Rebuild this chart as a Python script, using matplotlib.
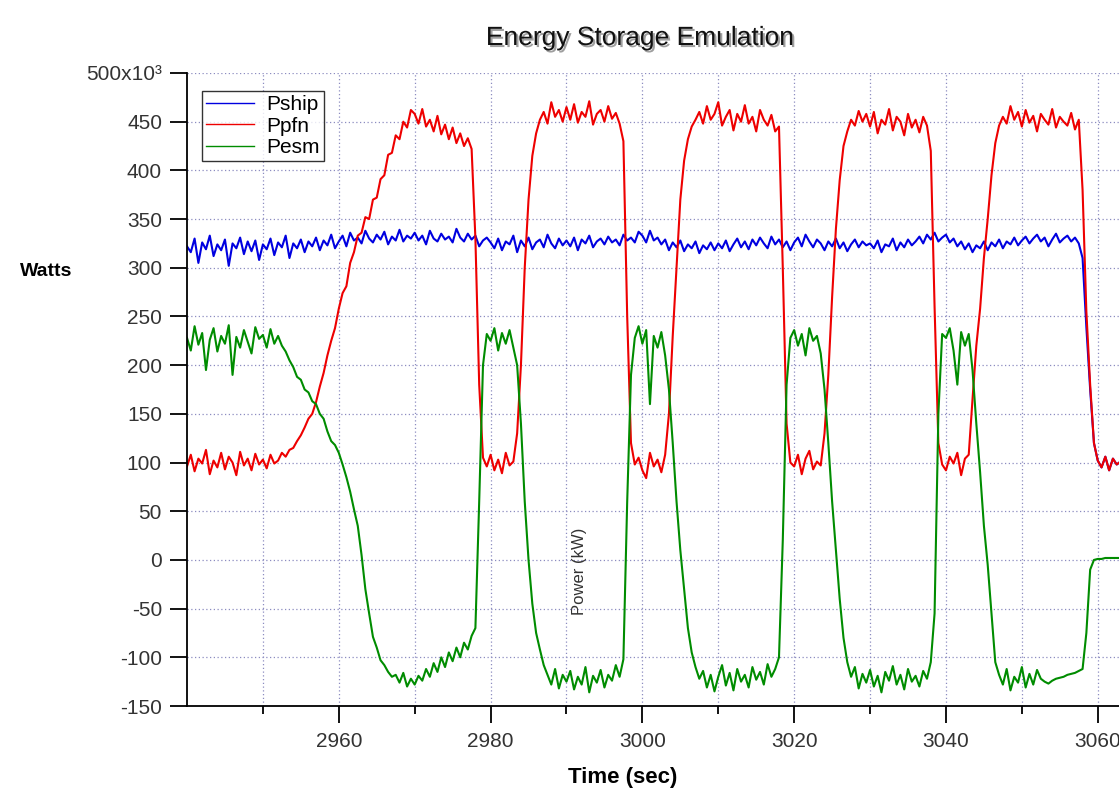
import numpy as np
import matplotlib.pyplot as plt
import matplotlib.patheffects as pe
from matplotlib.ticker import FixedLocator, FuncFormatter

plt.rcParams['font.family'] = ['Liberation Sans', 'DejaVu Sans']

# sample times (s), one reading every 0.5 s
t0, dt = 2940.0, 0.5

# power readings in kW, one row = 10 s
pship_kw = [
    322, 316, 330, 305, 326, 319, 333, 312, 324, 318, 329, 302, 325, 320, 331, 314, 327, 317, 328, 308,  # 2940
    324, 319, 330, 313, 326, 321, 333, 310, 325, 320, 329, 316, 327, 322, 331, 318, 328, 323, 334, 320,  # 2950
    327, 333, 322, 336, 328, 331, 325, 338, 330, 326, 334, 329, 337, 324, 332, 328, 339, 327, 333, 330,  # 2960
    336, 328, 333, 324, 338, 330, 327, 335, 329, 332, 326, 340, 331, 327, 335, 329, 333, 322, 328, 331,  # 2970
    326, 320, 330, 318, 327, 324, 333, 316, 328, 322, 331, 319, 326, 329, 321, 334, 325, 320, 330, 323,  # 2980
    328, 322, 331, 318, 329, 325, 333, 321, 327, 330, 324, 332, 326, 329, 323, 334, 328, 331, 326, 337,  # 2990
    333, 326, 338, 328, 331, 324, 329, 318, 326, 321, 328, 317, 324, 320, 327, 315, 323, 319, 326, 318,  # 3000
    325, 320, 328, 317, 324, 330, 321, 327, 319, 329, 323, 331, 325, 320, 332, 324, 329, 321, 327, 318,  # 3010
    326, 331, 322, 334, 327, 321, 329, 325, 318, 327, 322, 330, 320, 326, 317, 324, 329, 321, 327, 323,  # 3020
    325, 320, 328, 316, 324, 322, 330, 318, 326, 321, 329, 323, 327, 332, 325, 334, 329, 336, 327, 331,  # 3030
    334, 326, 330, 322, 327, 319, 325, 316, 323, 320, 327, 318, 326, 322, 329, 320, 327, 324, 331, 323,  # 3040
    328, 332, 325, 330, 334, 327, 331, 322, 329, 335, 326, 330, 333, 327, 331, 325, 310, 239, 175, 120,  # 3050
    102, 95, 106, 92, 104, 98, 101,  # 3060
]

ppfn_kw = [
    96, 108, 91, 104, 99, 113, 88, 102, 95, 110, 93, 106, 100, 87, 111, 97, 104, 92, 109, 98,  # 2940
    103, 94, 108, 99, 102, 110, 106, 113, 115, 122, 128, 136, 145, 150, 162, 178, 192, 210, 225, 238,  # 2950
    258, 274, 281, 305, 316, 333, 336, 352, 350, 370, 372, 391, 395, 416, 418, 436, 432, 450, 444, 462,  # 2960
    458, 448, 463, 445, 452, 440, 456, 437, 447, 432, 444, 428, 438, 425, 433, 422, 330, 180, 105, 96,  # 2970
    108, 92, 103, 89, 110, 97, 101, 130, 200, 300, 370, 415, 438, 452, 460, 448, 470, 455, 462, 450,  # 2980
    465, 452, 468, 449, 460, 455, 471, 447, 458, 462, 450, 466, 453, 459, 448, 430, 250, 120, 98, 105,  # 2990
    92, 84, 110, 96, 103, 90, 108, 150, 230, 300, 370, 410, 432, 445, 452, 460, 448, 466, 452, 458,  # 3000
    470, 446, 455, 462, 441, 458, 450, 467, 448, 455, 440, 462, 452, 446, 457, 440, 445, 300, 140, 100,  # 3010
    96, 108, 88, 104, 112, 93, 101, 97, 130, 190, 270, 340, 390, 425, 440, 452, 446, 461, 450, 458,  # 3020
    445, 460, 438, 452, 447, 463, 441, 455, 450, 436, 458, 444, 452, 439, 455, 446, 420, 260, 120, 98,  # 3030
    92, 106, 99, 110, 87, 104, 108, 165, 220, 258, 310, 350, 395, 428, 446, 455, 448, 466, 452, 460,  # 3040
    445, 462, 449, 456, 440, 458, 452, 447, 463, 444, 455, 450, 446, 459, 442, 452, 380, 255, 180, 120,  # 3050
    102, 95, 106, 92, 104, 98, 101,  # 3060
]

pesm_kw = [
    228, 215, 240, 221, 233, 195, 226, 238, 214, 230, 222, 241, 190, 229, 218, 236, 224, 212, 239, 227,  # 2940
    231, 218, 237, 222, 230, 220, 214, 205, 198, 188, 185, 175, 172, 163, 160, 150, 145, 132, 122, 118,  # 2950
    110, 98, 85, 70, 52, 35, 5, -30, -55, -79, -90, -103, -108, -115, -120, -118, -126, -116, -130, -122,  # 2960
    -128, -119, -124, -112, -120, -106, -115, -100, -110, -95, -104, -90, -100, -85, -92, -78, -70, 60, 200, 232,  # 2970
    225, 238, 215, 233, 222, 236, 218, 200, 140, 60, 0, -45, -75, -92, -108, -118, -128, -112, -132, -118,  # 2980
    -125, -114, -133, -120, -128, -110, -136, -119, -126, -113, -131, -118, -124, -108, -120, -102, 60, 190, 228, 240,  # 2990
    222, 236, 160, 230, 218, 234, 210, 175, 120, 60, 10, -30, -70, -95, -110, -122, -114, -131, -118, -135,  # 3000
    -120, -108, -129, -116, -134, -112, -125, -118, -131, -110, -123, -115, -128, -107, -120, -112, -100, 20, 180, 228,  # 3010
    236, 220, 232, 210, 238, 225, 230, 212, 175, 120, 60, 10, -40, -80, -105, -120, -110, -132, -117, -126,  # 3020
    -113, -130, -119, -136, -115, -124, -109, -128, -118, -133, -112, -125, -119, -130, -114, -122, -105, -55, 150, 232,  # 3030
    228, 238, 215, 180, 234, 220, 232, 195, 140, 90, 35, -5, -55, -105, -118, -128, -112, -134, -120, -126,  # 3040
    -110, -131, -117, -128, -113, -122, -125, -127, -124, -122, -121, -120, -118, -117, -116, -114, -112, -75, -10, 0,  # 3050
    1, 1, 2, 2, 2, 2, 2,  # 3060
]

y_ticks_kw = [-150, -100, -50, 0, 50, 100, 150, 200, 250, 300, 350, 400, 450, 500]
x_major = [2960, 2980, 3000, 3020, 3040, 3060]
x_minor = [2950, 2970, 2990, 3010, 3030, 3050]

time = t0 + dt * np.arange(len(pship_kw))
pship = np.array(pship_kw) * 1000.0
ppfn = np.array(ppfn_kw) * 1000.0
pesm = np.array(pesm_kw) * 1000.0

W, H = 1119, 793
fig = plt.figure(figsize=(W / 100, H / 100), dpi=100)
ax = fig.add_axes([187 / W, (H - 706) / H, (W - 187) / W, (706 - 73) / H])

ax.plot(time, pship, color='#0000e0', lw=1.5, label='Pship')
ax.plot(time, ppfn, color='#ee0000', lw=1.5, label='Ppfn')
ax.plot(time, pesm, color='#008c00', lw=1.5, label='Pesm')

ax.set_xlim(2940, 3062.8)
ax.set_ylim(-150000, 500000)

ax.xaxis.set_major_locator(FixedLocator(x_major))
ax.xaxis.set_minor_locator(FixedLocator(x_minor))
ax.yaxis.set_major_locator(FixedLocator([v * 1000 for v in y_ticks_kw]))


def yfmt(v, pos):
    k = int(round(v / 1000))
    if k == 500:
        return '500x10\u00b3'
    return str(k)


ax.yaxis.set_major_formatter(FuncFormatter(yfmt))
ax.xaxis.set_major_formatter(FuncFormatter(lambda v, p: '%d' % v))

ax.tick_params(axis='both', which='major', direction='out', length=12, width=1.3,
               labelsize=15, labelcolor='#333333', pad=6)
ax.tick_params(axis='x', which='minor', direction='out', length=6, width=1.3)
ax.tick_params(axis='x', which='major', pad=7)

ax.grid(True, which='both', axis='x', color='#8c8cc0', linestyle=(0, (1, 2)), lw=0.9)
ax.grid(True, which='major', axis='y', color='#8c8cc0', linestyle=(0, (1, 2)), lw=0.9)
ax.set_axisbelow(True)

for s in ['top', 'right']:
    ax.spines[s].set_visible(False)
for s in ['left', 'bottom']:
    ax.spines[s].set_linewidth(1.3)

leg = ax.legend(loc='upper left', bbox_to_anchor=(202 / W, 1 - 91 / H), bbox_transform=fig.transFigure,
                fontsize=15, frameon=True, fancybox=False, borderaxespad=0, borderpad=0.2,
                handlelength=2.3, handletextpad=0.6, labelspacing=0.12)
leg.get_frame().set_edgecolor('black')
leg.get_frame().set_linewidth(1.0)
for h in leg.get_lines():
    h.set_linewidth(1.0)

fig.text(640 / W, 1 - 38 / H, 'Energy Storage Emulation', ha='center', va='center', fontsize=19,
         color='#111111', path_effects=[pe.withSimplePatchShadow(offset=(1.5, -1.5), shadow_rgbFace='#777777', alpha=0.7)])
fig.text(623 / W, 1 - 777 / H, 'Time (sec)', ha='center', va='center', fontsize=16, fontweight='bold')
fig.text(46 / W, 1 - 272 / H, 'Watts', ha='center', va='center', fontsize=14, fontweight='bold')
ax.text(2991.7, -12000, 'Power (kW)', rotation=90, ha='center', va='center', fontsize=12, color='#333333')

fig.savefig('out.png', dpi=100)
